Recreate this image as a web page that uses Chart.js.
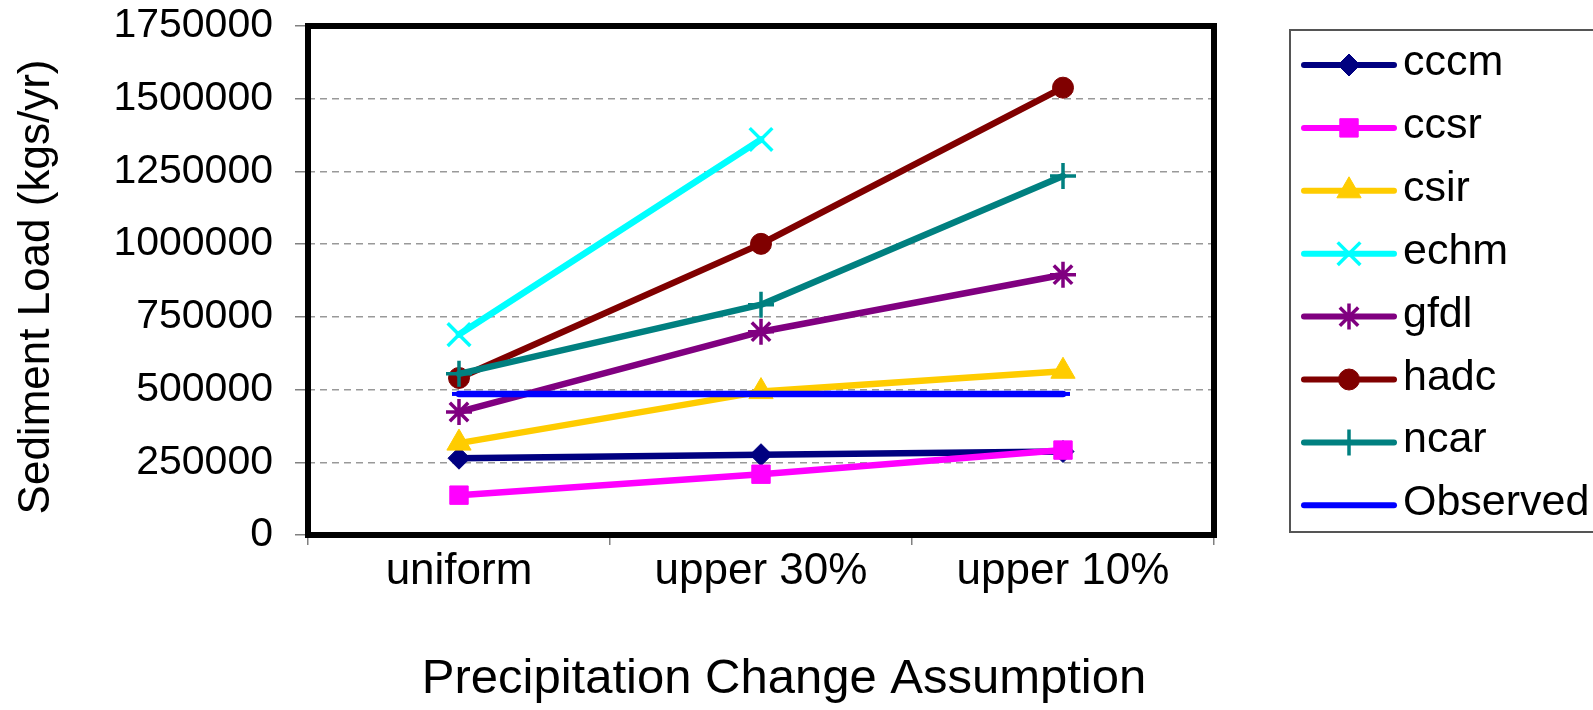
<!DOCTYPE html>
<html>
<head>
<meta charset="utf-8">
<script src="https://cdn.jsdelivr.net/npm/chart.js@4/dist/chart.umd.min.js"></script>
<style>
  html, body { margin: 0; padding: 0; background: #fff; }
  canvas { display: block; }
</style>
</head>
<body>
<canvas id="chart" width="1593" height="710"></canvas>
<script>
// Sediment load (kgs/yr) per climate model under each precipitation change assumption
const categories = ['uniform', 'upper 30%', 'upper 10%'];
const seriesNames = ['cccm', 'ccsr', 'csir', 'echm', 'gfdl', 'hadc', 'ncar', 'Observed'];
const cccm = [264000, 276000, 287000];
const ccsr = [137000, 209000, 292000];
const csir = [316000, 493000, 563000];
const echm = [689000, 1360000, null];
const gfdl = [423000, 699000, 895000];
const hadc = [540000, 1001000, 1538000];
const ncar = [554000, 792000, 1234000];
const observed = [485000, 485000, 485000];
const yTickValues = [0, 250000, 500000, 750000, 1000000, 1250000, 1500000, 1750000];

const seriesValues = [cccm, ccsr, csir, echm, gfdl, hadc, ncar, observed];

const FONT = "'Liberation Sans', Arial, Helvetica, sans-serif";

// line colour and marker for each series
const seriesStyles = [
  { color: '#000080', marker: 'rectRot',  radius: 11,   markerWidth: 1 },
  { color: '#FF00FF', marker: 'rect',     radius: 13,   markerWidth: 1 },
  { color: '#FFCC00', marker: 'triangle', radius: 14,   markerWidth: 1 },
  { color: '#00FFFF', marker: 'crossRot', radius: 16,   markerWidth: 3.5 },
  { color: '#800080', marker: 'star',     radius: 13,   markerWidth: 3.5 },
  { color: '#800000', marker: 'circle',   radius: 10.5, markerWidth: 1 },
  { color: '#008080', marker: 'cross',    radius: 13,   markerWidth: 3.5 },
  { color: '#0000FF', marker: 'line',     radius: 7,    markerWidth: 4 }
];

const datasets = seriesNames.map((name, i) => ({
  label: name,
  data: seriesValues[i],
  borderColor: seriesStyles[i].color,
  backgroundColor: seriesStyles[i].color,
  borderWidth: 6.5,
  borderCapStyle: 'round',
  borderJoinStyle: 'round',
  pointStyle: seriesStyles[i].marker,
  pointRadius: seriesStyles[i].radius,
  pointBorderWidth: seriesStyles[i].markerWidth,
  pointBackgroundColor: seriesStyles[i].color,
  pointBorderColor: seriesStyles[i].color,
  spanGaps: false,
  tension: 0,
  clip: false,
  order: seriesNames.length - 1 - i   // later series drawn on top
}));

// heavy frame around the plot area
const plotFrame = {
  id: 'plotFrame',
  afterDatasetsDraw(chart) {
    const { ctx, chartArea: a } = chart;
    ctx.save();
    ctx.strokeStyle = '#000';
    ctx.lineWidth = 6;
    ctx.lineJoin = 'miter';
    ctx.strokeRect(a.left, a.top, a.right - a.left, a.bottom - a.top);
    ctx.restore();
  }
};

// boxed legend: a line sample with the series marker, then its name
const boxedLegend = {
  id: 'boxedLegend',
  afterDraw(chart) {
    const { ctx } = chart;
    const boxLeft = 1290, boxTop = 30, boxBottom = 532;
    const lineStart = 1304, lineEnd = 1394, textX = 1403;
    const firstY = 65, step = 62.9;
    ctx.save();
    ctx.strokeStyle = '#555';
    ctx.lineWidth = 2;
    ctx.strokeRect(boxLeft, boxTop, 400, boxBottom - boxTop);
    chart.data.datasets.forEach((ds, i) => {
      const y = firstY + i * step;
      ctx.strokeStyle = ds.borderColor;
      ctx.fillStyle = ds.borderColor;
      ctx.lineWidth = 6;
      ctx.lineCap = 'round';
      ctx.setLineDash([]);
      ctx.beginPath();
      ctx.moveTo(lineStart, y);
      ctx.lineTo(lineEnd, y);
      ctx.stroke();
      ctx.lineCap = 'butt';
      ctx.lineWidth = ds.pointBorderWidth;
      Chart.helpers.drawPoint(ctx, {
        pointStyle: ds.pointStyle,
        radius: ds.pointRadius,
        rotation: 0,
        borderWidth: ds.pointBorderWidth
      }, (lineStart + lineEnd) / 2, y);
      ctx.fillStyle = '#000';
      ctx.font = '43px ' + FONT;
      ctx.textAlign = 'left';
      ctx.textBaseline = 'alphabetic';
      ctx.fillText(ds.label, textX, y + 10);
    });
    ctx.restore();
  }
};

// axis titles
const axisTitles = {
  id: 'axisTitles',
  afterDraw(chart) {
    const { ctx } = chart;
    ctx.save();
    ctx.fillStyle = '#000';
    ctx.textAlign = 'center';
    ctx.textBaseline = 'alphabetic';
    ctx.font = '49px ' + FONT;
    ctx.fillText('Precipitation Change Assumption', 784, 693);
    ctx.translate(49, 287);
    ctx.rotate(-Math.PI / 2);
    ctx.font = '44px ' + FONT;
    ctx.fillText('Sediment Load (kgs/yr)', 0, 0);
    ctx.restore();
  }
};

new Chart(document.getElementById('chart'), {
  type: 'line',
  data: { labels: categories, datasets },
  options: {
    responsive: false,
    animation: false,
    devicePixelRatio: 1,
    events: [],
    layout: { padding: { top: 26, right: 379, left: 0, bottom: 0 } },
    plugins: { legend: { display: false }, tooltip: { enabled: false } },
    scales: {
      x: {
        type: 'category',
        offset: true,
        grid: {
          offset: true,
          drawOnChartArea: false,
          tickLength: 10,
          tickColor: '#808080',
          color: '#808080',
          lineWidth: 1.5
        },
        border: { display: false },
        ticks: {
          color: '#000',
          font: { family: FONT, size: 44 },
          padding: 0,
          maxRotation: 0,
          autoSkip: false
        },
        afterFit(scale) {
          scale.height = 175;
          scale.paddingLeft = 0;
          scale.paddingRight = 0;
        }
      },
      y: {
        min: 0,
        max: 1750000,
        afterBuildTicks(scale) { scale.ticks = yTickValues.map(v => ({ value: v })); },
        ticks: {
          color: '#000',
          font: { family: FONT, size: 41 },
          padding: 22,
          callback: v => String(v)
        },
        grid: {
          color: '#999999',
          lineWidth: 1.5,
          tickLength: 13,
          tickColor: '#808080',
          tickBorderDash: []
        },
        border: { display: false, dash: [7, 5] },
        afterFit(scale) {
          scale.width = 308;
          scale.paddingTop = 0;
          scale.paddingBottom = 0;
        }
      }
    }
  },
  plugins: [plotFrame, boxedLegend, axisTitles]
});
</script>
</body>
</html>
